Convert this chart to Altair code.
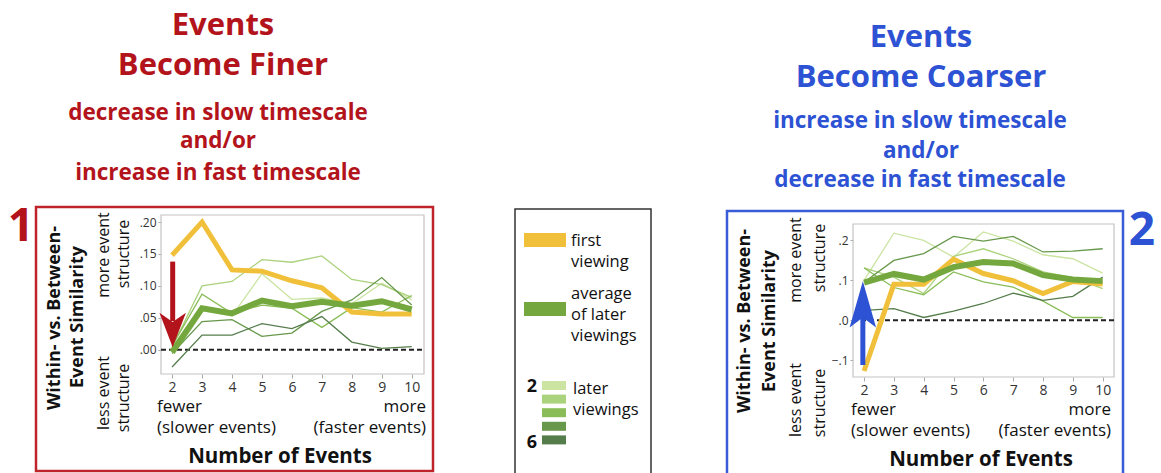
import altair as alt
import pandas as pd

# ---------------- data ----------------
events = [2, 3, 4, 5, 6, 7, 8, 9, 10]
viewing_names = ["2", "3", "4", "5", "6"]

# Panel 1: events become finer
finer_first = [0.148, 0.200, 0.125, 0.123, 0.108, 0.097, 0.059, 0.056, 0.056]
finer_avg = [-0.004, 0.065, 0.057, 0.077, 0.068, 0.075, 0.069, 0.076, 0.063]
finer_v2 = [0.002, 0.062, 0.053, 0.119, 0.079, 0.081, 0.072, 0.104, 0.078]
finer_v3 = [0.004, 0.100, 0.107, 0.141, 0.137, 0.147, 0.110, 0.102, 0.082]
finer_v4 = [0.006, 0.087, 0.057, 0.070, 0.065, 0.035, 0.066, 0.059, 0.085]
finer_v5 = [-0.006, 0.044, 0.047, 0.021, 0.026, 0.060, 0.078, 0.113, 0.070]
finer_v6 = [-0.027, 0.023, 0.023, 0.041, 0.033, 0.052, 0.012, 0.002, 0.005]

# Panel 2: events become coarser
coarser_first = [-0.127, 0.090, 0.090, 0.153, 0.117, 0.099, 0.067, 0.097, 0.091]
coarser_avg = [0.094, 0.116, 0.102, 0.133, 0.146, 0.142, 0.113, 0.102, 0.098]
coarser_v2 = [0.100, 0.218, 0.200, 0.158, 0.221, 0.198, 0.164, 0.154, 0.118]
coarser_v3 = [0.131, 0.108, 0.067, 0.160, 0.179, 0.154, 0.121, 0.107, 0.079]
coarser_v4 = [0.131, 0.082, 0.064, 0.121, 0.096, 0.083, 0.048, 0.007, 0.007]
coarser_v5 = [0.095, 0.150, 0.167, 0.210, 0.198, 0.210, 0.171, 0.173, 0.179]
coarser_v6 = [0.025, 0.029, 0.007, 0.023, 0.042, 0.068, 0.050, 0.060, 0.108]

finer_ticks = [0.0, 0.05, 0.10, 0.15, 0.20]
coarser_ticks = [-0.1, 0.0, 0.1, 0.2]

# ---------------- styling ----------------
FONT = "Open Sans"
RED = "#b3141c"
BLUE = "#2d52d3"
YELLOW = "#f1c03a"
GREEN = "#74a83e"
SHADES = ["#cbe4a2", "#abd27c", "#8abd57", "#67984b", "#557d4c"]
INK = "#111111"

ONE = pd.DataFrame({"k": [0]})


def long_frame(series, names):
    rows = []
    for name, vals in zip(names, series):
        for e, v in zip(events, vals):
            rows.append({"events": e, "value": v, "viewing": name})
    return pd.DataFrame(rows)


def text(s, x, y, size, color=INK, weight="normal", align="center",
         angle=0, baseline="alphabetic"):
    return alt.Chart(ONE).mark_text(
        text=s, font=FONT, fontSize=size, fontWeight=weight, color=color,
        align=align, baseline=baseline, angle=angle,
    ).encode(x=alt.value(x), y=alt.value(y))


def box(x1, y1, x2, y2, stroke=None, fill=None, width=1.0):
    props = {"strokeWidth": width}
    if stroke is not None:
        props["stroke"] = stroke
    if fill is not None:
        props["fill"] = fill
        props["fillOpacity"] = 1
    else:
        props["fillOpacity"] = 0
    return alt.Chart(ONE).mark_rect(**props).encode(
        x=alt.value(x1), x2=alt.value(x2), y=alt.value(y1), y2=alt.value(y2))


def panel(first, avg, later, xdom, xrange, ydom, yrange, ticks, fmt,
          arrow_color, arrow_x, shaft, head_y, head_path, head_size):
    xs = alt.Scale(domain=xdom, range=xrange, nice=False, zero=False)
    ys = alt.Scale(domain=ydom, range=yrange, nice=False, zero=False)
    xaxis = alt.Axis(orient="bottom", offset=-(473 - yrange[0]),
                     values=events, title=None, domain=False, grid=False,
                     tickColor="#a8a8a8", tickSize=4, labelPadding=2,
                     labelFontSize=14, labelColor="#333333", labelFont=FONT,
                     labelFlush=False)
    yaxis = alt.Axis(orient="left", offset=-xrange[0], values=ticks,
                     title=None, domain=False, grid=False,
                     tickColor="#a8a8a8", tickSize=3, labelPadding=2,
                     labelFontSize=12, labelColor="#333333", labelFont=FONT,
                     labelFlush=False,
                     labelExpr=f"replace(format(datum.value, '{fmt}'), '0.', '.')")

    def X(field=None, datum=None):
        if datum is not None:
            return alt.XDatum(datum, type="quantitative", scale=xs, axis=xaxis)
        return alt.X(field, type="quantitative", scale=xs, axis=xaxis)

    def Y(field=None, datum=None):
        if datum is not None:
            return alt.YDatum(datum, type="quantitative", scale=ys, axis=yaxis)
        return alt.Y(field, type="quantitative", scale=ys, axis=yaxis)

    frame = alt.Chart(ONE).mark_rect(
        fillOpacity=0, stroke="#c4c4c4", strokeWidth=1.2
    ).encode(x=X(datum=xdom[0]), x2=alt.X2Datum(xdom[1]),
             y=Y(datum=ydom[0]), y2=alt.Y2Datum(ydom[1]))

    zero = alt.Chart(ONE).mark_rule(
        strokeDash=[5, 3], strokeWidth=2, color="#222222"
    ).encode(x=X(datum=xdom[0]), x2=alt.X2Datum(xdom[1]), y=Y(datum=0))

    thin = alt.Chart(long_frame(later, viewing_names)).mark_line(
        strokeWidth=1.3
    ).encode(
        x=X("events"), y=Y("value"),
        color=alt.Color("viewing:N", scale=alt.Scale(domain=viewing_names, range=SHADES),
                        legend=None),
    )

    first_line = alt.Chart(pd.DataFrame({"events": events, "value": first})).mark_line(
        strokeWidth=5, color=YELLOW
    ).encode(x=X("events"), y=Y("value"))

    avg_line = alt.Chart(pd.DataFrame({"events": events, "value": avg})).mark_line(
        strokeWidth=6, color=GREEN
    ).encode(x=X("events"), y=Y("value"))

    arrow_shaft = alt.Chart(ONE).mark_rule(
        strokeWidth=5, color=arrow_color
    ).encode(x=X(datum=arrow_x), y=Y(datum=shaft[0]), y2=alt.Y2Datum(shaft[1]))

    arrow_head = alt.Chart(ONE).mark_point(
        shape=head_path, filled=True, size=head_size, color=arrow_color,
        opacity=1, strokeWidth=0
    ).encode(x=X(datum=arrow_x), y=Y(datum=head_y))

    return alt.layer(frame, zero, thin, first_line, avg_line, arrow_shaft, arrow_head)


left = panel(finer_first, finer_avg,
             [finer_v2, finer_v3, finer_v4, finer_v5, finer_v6],
             [1.63, 10.41], [161, 424], [-0.038, 0.211], [374, 215],
             finer_ticks, ".2f", RED, 2.02, [0.138, 0.045], 0.031,
             "M0,1.3 L-1,-1.3 L0,-0.6 L1,-1.3 Z", 700)

right = panel(coarser_first, coarser_avg,
              [coarser_v2, coarser_v3, coarser_v4, coarser_v5, coarser_v6],
              [1.63, 10.38], [853, 1114], [-0.142, 0.241], [377, 224],
              coarser_ticks, ".1f", BLUE, 1.96, [-0.112, 0.010], 0.040,
              "M0,-1.75 L1,1.75 L0,1.0 L-1,1.75 Z", 700)

# ---------------- titles, boxes, legend ----------------
decor = [
    # panel frames
    box(36, 207, 433, 471, stroke="#c0242b", width=2.5),
    box(727, 211, 1123, 485, stroke="#3a5bd8", width=2.5),
    box(515, 209, 651, 485, stroke="#333333", width=1.5),
    text("1", 21, 241, 46, color=RED, weight="bold"),
    text("2", 1142, 245, 46, color=BLUE, weight="bold"),

    # left headings
    text("Events", 223, 35, 31, color=RED, weight="bold"),
    text("Become Finer", 223, 75, 31, color=RED, weight="bold"),
    text("decrease in slow timescale", 218, 120, 22.5, color=RED, weight="bold"),
    text("and/or", 218, 148, 22.5, color=RED, weight="bold"),
    text("increase in fast timescale", 218, 180, 22.5, color=RED, weight="bold"),

    # right headings
    text("Events", 921, 47, 31, color=BLUE, weight="bold"),
    text("Become Coarser", 921, 87, 31, color=BLUE, weight="bold"),
    text("increase in slow timescale", 920, 128, 22.5, color=BLUE, weight="bold"),
    text("and/or", 921, 158, 22.5, color=BLUE, weight="bold"),
    text("decrease in fast timescale", 920, 187, 22.5, color=BLUE, weight="bold"),

    # left axis titles
    text("Within- vs. Between-", 55, 318, 18, weight="bold", angle=270, baseline="middle"),
    text("Event Similarity", 78, 317, 18, weight="bold", angle=270, baseline="middle"),
    text("more event", 104, 255, 16, angle=270, baseline="middle"),
    text("structure", 124, 254, 16, angle=270, baseline="middle"),
    text("less event", 104, 393, 16, angle=270, baseline="middle"),
    text("structure", 124, 398, 16, angle=270, baseline="middle"),
    text("fewer", 157, 412, 17, align="left"),
    text("(slower events)", 157, 433, 17, align="left"),
    text("more", 426, 412, 17, align="right"),
    text("(faster events)", 426, 433, 17, align="right"),
    text("Number of Events", 280, 463, 20.5, weight="bold"),

    # right axis titles
    text("Within- vs. Between-", 745, 321, 18, weight="bold", angle=270, baseline="middle"),
    text("Event Similarity", 770, 321, 18, weight="bold", angle=270, baseline="middle"),
    text("more event", 796, 260, 16, angle=270, baseline="middle"),
    text("structure", 820, 258, 16, angle=270, baseline="middle"),
    text("less event", 796, 400, 16, angle=270, baseline="middle"),
    text("structure", 820, 403, 16, angle=270, baseline="middle"),
    text("fewer", 851, 415, 17, align="left"),
    text("(slower events)", 851, 436, 17, align="left"),
    text("more", 1111, 415, 17, align="right"),
    text("(faster events)", 1111, 436, 17, align="right"),
    text("Number of Events", 981, 466, 20.5, weight="bold"),

    # legend
    box(524, 233, 566, 247, fill=YELLOW, width=0),
    text("first", 571, 246, 16.5, align="left"),
    text("viewing", 571, 267, 16.5, align="left"),
    box(524, 302, 566, 316, fill=GREEN, width=0),
    text("average", 571, 299, 16.5, align="left"),
    text("of later", 571, 320, 16.5, align="left"),
    text("viewings", 571, 341, 16.5, align="left"),
    text("2", 532, 392, 18, weight="bold", align="center"),
    text("6", 532, 448, 18, weight="bold", align="center"),
    text("later", 573, 394, 16.5, align="left"),
    text("viewings", 573, 415, 16.5, align="left"),
]
for i, shade in enumerate(SHADES):
    top = 381 + i * 13.6
    decor.append(box(542, top, 566, top + 9, fill=shade, width=0))

chart = alt.layer(*decor, left, right).resolve_scale(
    x="independent", y="independent"
).properties(
    width=1161, height=473, padding=0,
    autosize=alt.AutoSizeParams(type="none"),
    background="white",
).configure_view(stroke=None)

chart.save("out.html", embed_options={"renderer": "svg", "actions": False})
